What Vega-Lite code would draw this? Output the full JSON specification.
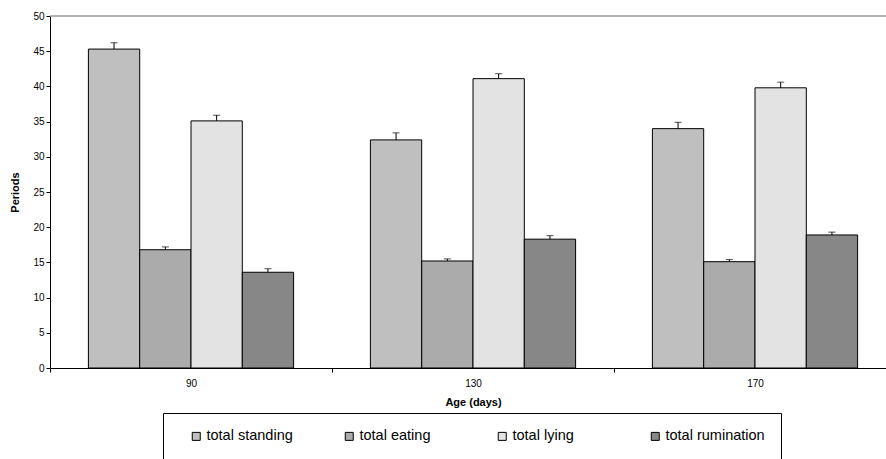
{
  "$schema": "https://vega.github.io/schema/vega-lite/v6.json",
  "width": 836,
  "height": 352,
  "autosize": {"type": "none"},
  "padding": {"left": 50, "top": 16, "right": 0, "bottom": 91},
  "config": {
    "font": "Liberation Sans",
    "view": {"stroke": null},
    "axis": {"grid": false, "domainColor": "#000", "tickColor": "#000", "labelColor": "#000", "titleColor": "#000", "labelFontSize": 10, "titleFontSize": 11, "titleFontWeight": "bold", "tickSize": 4, "domainWidth": 1, "tickWidth": 1},
    "axisY": {"tickCount": 10, "labelPadding": 2, "titlePadding": 12, "labelOverlap": false}
  },
  "data": {
    "values": [
      {"age": "90", "behaviour": "total standing", "mean": 45.3, "upper": 46.2},
      {"age": "90", "behaviour": "total eating", "mean": 16.8, "upper": 17.2},
      {"age": "90", "behaviour": "total lying", "mean": 35.1, "upper": 35.9},
      {"age": "90", "behaviour": "total rumination", "mean": 13.6, "upper": 14.1},
      {"age": "130", "behaviour": "total standing", "mean": 32.4, "upper": 33.4},
      {"age": "130", "behaviour": "total eating", "mean": 15.2, "upper": 15.5},
      {"age": "130", "behaviour": "total lying", "mean": 41.1, "upper": 41.8},
      {"age": "130", "behaviour": "total rumination", "mean": 18.3, "upper": 18.8},
      {"age": "170", "behaviour": "total standing", "mean": 34.0, "upper": 34.9},
      {"age": "170", "behaviour": "total eating", "mean": 15.1, "upper": 15.4},
      {"age": "170", "behaviour": "total lying", "mean": 39.8, "upper": 40.6},
      {"age": "170", "behaviour": "total rumination", "mean": 18.9, "upper": 19.3}
    ]
  },
  "layer": [
    {
      "data": {"values": [{"v": 50}]},
      "mark": {"type": "rule", "color": "#999999", "strokeWidth": 1.5},
      "encoding": {
        "y": {
          "field": "v", "type": "quantitative",
          "scale": {"domain": [0, 50], "nice": false},
          "axis": {"title": "Periods"}
        }
      }
    },
    {
      "encoding": {
        "x": {
          "field": "age", "type": "nominal", "sort": ["90", "130", "170"],
          "scale": {"range": [0, 846], "paddingInner": 0, "paddingOuter": 0},
          "axis": {"title": "Age (days)", "labelAngle": 0, "tickBand": "extent", "labelPadding": 6, "titlePadding": 8}
        },
        "xOffset": {"field": "behaviour", "type": "nominal", "sort": ["total standing", "total eating", "total lying", "total rumination"], "scale": {"paddingInner": 0, "paddingOuter": 0.7485}}
      },
      "layer": [
        {
          "mark": {"type": "bar", "stroke": "#000", "strokeWidth": 1},
          "encoding": {
            "y": {
              "field": "mean", "type": "quantitative",
              "scale": {"domain": [0, 50], "nice": false},
              "axis": {"title": "Periods"}
            },
            "color": {
              "field": "behaviour", "type": "nominal",
              "scale": {"domain": ["total standing", "total eating", "total lying", "total rumination"], "range": ["#bfbfbf", "#ababab", "#e3e3e3", "#878787"]},
              "legend": {
                "title": " ", "titleOrient": "bottom", "titleFontSize": 10, "titlePadding": 4,
                "orient": "none", "legendX": 113, "legendY": 397, "direction": "horizontal", "columns": 4, "gridAlign": "all",
                "strokeColor": "#000", "padding": 16, "symbolOffset": 10, "columnPadding": 26,
                "symbolType": "square", "symbolSize": 64, "symbolStrokeColor": "#000", "symbolStrokeWidth": 1,
                "labelFontSize": 14.5, "labelColor": "#000", "labelOffset": 3, "labelLimit": 300
              }
            }
          }
        },
        {
          "mark": {"type": "rule", "color": "#000", "strokeWidth": 1},
          "encoding": {"y": {"field": "mean", "type": "quantitative"}, "y2": {"field": "upper"}}
        },
        {
          "mark": {"type": "tick", "color": "#000", "thickness": 1, "size": 7, "orient": "horizontal"},
          "encoding": {"y": {"field": "upper", "type": "quantitative"}}
        }
      ]
    }
  ]
}
